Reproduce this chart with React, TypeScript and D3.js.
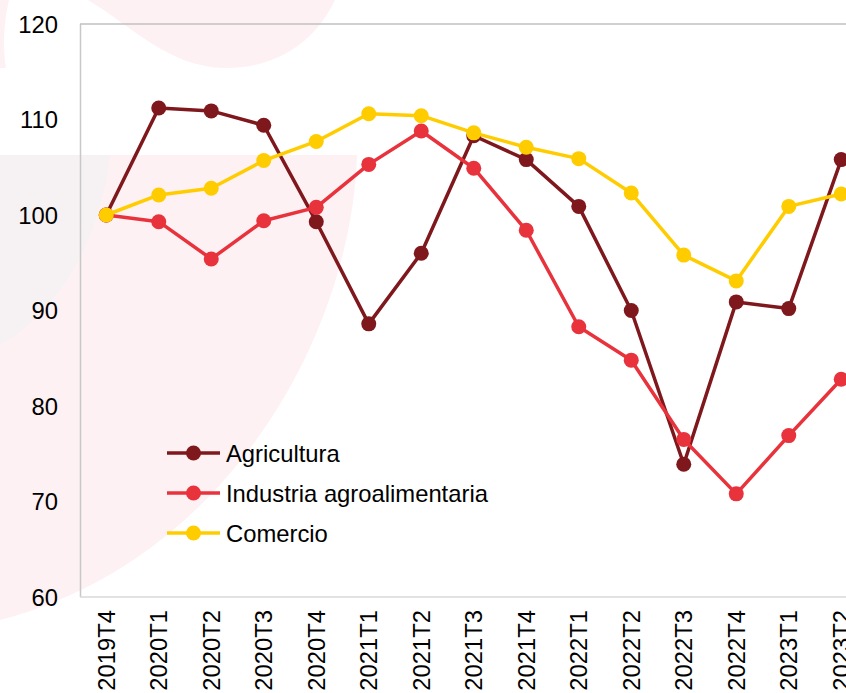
import React, { useEffect, useRef } from 'react';
import * as d3 from 'd3';

const quarters = [
  '2019T4', '2020T1', '2020T2', '2020T3', '2020T4',
  '2021T1', '2021T2', '2021T3', '2021T4',
  '2022T1', '2022T2', '2022T3', '2022T4',
  '2023T1', '2023T2',
];

const agricultura = [100, 111.2, 110.9, 109.4, 99.3, 88.6, 96.0, 108.3, 105.8, 100.9, 90.0, 73.9, 90.9, 90.2, 105.8];
const industria = [100, 99.3, 95.4, 99.4, 100.8, 105.3, 108.8, 104.9, 98.4, 88.3, 84.8, 76.5, 70.8, 76.9, 82.8];
const comercio = [100, 102.1, 102.8, 105.7, 107.7, 110.6, 110.4, 108.6, 107.1, 105.9, 102.3, 95.8, 93.1, 100.9, 102.2];

const seriesNames = ['Agricultura', 'Industria agroalimentaria', 'Comercio'];
const seriesColors = ['#7f181d', '#e8323c', '#ffcc00'];
const yTicks = [60, 70, 80, 90, 100, 110, 120];

const W = 846;
const H = 693;

const App: React.FC = () => {
  const ref = useRef<SVGSVGElement>(null);

  useEffect(() => {
    const svg = d3.select(ref.current);
    svg.selectAll('*').remove();

    const left = 80, top = 24, bottom = 597;
    const step = 52.5;

    const x = d3.scaleBand<string>()
      .domain(quarters)
      .range([left, left + step * quarters.length]);
    const y = d3.scaleLinear().domain([60, 120]).range([bottom, top]);
    const cx = (q: string) => (x(q) as number) + x.bandwidth() / 2;

    // faint watermark behind the chart
    const bg = svg.append('g');
    bg.append('path')
      .attr('d', 'M0,155 L357,155 C352,330 230,560 0,620 Z')
      .attr('fill', '#fdf1f3');
    bg.append('path')
      .attr('d', 'M0,155 L110,155 C100,240 60,310 0,345 Z')
      .attr('fill', '#f6f2f3');
    bg.append('path')
      .attr('d', 'M88,0 C130,25 170,68 225,68 C285,68 318,35 335,0 Z')
      .attr('fill', '#fdf1f3');
    bg.append('path')
      .attr('d', 'M0,0 L9,0 C3,25 3,50 6,68 L0,68 Z')
      .attr('fill', '#fdf1f3');

    // frame
    svg.append('line')
      .attr('x1', left + 0.5).attr('x2', left + 0.5)
      .attr('y1', top).attr('y2', bottom)
      .attr('stroke', '#c8c8c8').attr('stroke-width', 1.5);
    svg.append('line')
      .attr('x1', left).attr('x2', W)
      .attr('y1', top).attr('y2', top)
      .attr('stroke', '#c0c0c0').attr('stroke-width', 1.5);
    svg.append('line')
      .attr('x1', left).attr('x2', W)
      .attr('y1', bottom).attr('y2', bottom)
      .attr('stroke', '#d9d9d9').attr('stroke-width', 1.5);

    const font = 'Liberation Sans, Arial, sans-serif';
    const fs = 23.8;

    // y tick labels
    svg.append('g')
      .selectAll('text')
      .data(yTicks)
      .join('text')
      .attr('x', 58)
      .attr('y', d => y(d))
      .attr('dy', '0.36em')
      .attr('text-anchor', 'end')
      .attr('font-family', font)
      .attr('font-size', fs)
      .attr('fill', '#000')
      .text(d => d);

    // x tick labels, rotated
    svg.append('g')
      .selectAll('text')
      .data(quarters)
      .join('text')
      .attr('transform', d => `translate(${cx(d) + 8.5},610) rotate(-90)`)
      .attr('text-anchor', 'end')
      .attr('font-family', font)
      .attr('font-size', fs)
      .attr('fill', '#000')
      .text(d => d);

    const allSeries = [agricultura, industria, comercio];
    const line = d3.line<number>()
      .x((_, i) => cx(quarters[i]))
      .y(d => y(d));

    allSeries.forEach((vals, s) => {
      const g = svg.append('g');
      g.append('path')
        .datum(vals)
        .attr('fill', 'none')
        .attr('stroke', seriesColors[s])
        .attr('stroke-width', 3.5)
        .attr('stroke-linejoin', 'round')
        .attr('d', line);
      g.selectAll('circle')
        .data(vals)
        .join('circle')
        .attr('cx', (_, i) => cx(quarters[i]))
        .attr('cy', d => y(d))
        .attr('r', 7.5)
        .attr('fill', seriesColors[s]);
    });

    // legend
    const legend = svg.append('g');
    seriesNames.forEach((name, i) => {
      const ly = 453 + i * 40;
      legend.append('line')
        .attr('x1', 167).attr('x2', 220)
        .attr('y1', ly).attr('y2', ly)
        .attr('stroke', seriesColors[i])
        .attr('stroke-width', 3.5);
      legend.append('circle')
        .attr('cx', 193.5).attr('cy', ly)
        .attr('r', 7.5)
        .attr('fill', seriesColors[i]);
      legend.append('text')
        .attr('x', 226).attr('y', ly)
        .attr('dy', '0.36em')
        .attr('font-family', font)
        .attr('font-size', fs)
        .attr('fill', '#000')
        .text(name);
    });
  }, []);

  return (
    <svg
      ref={ref}
      width={W}
      height={H}
      style={{ position: 'absolute', left: 0, top: 0, background: '#fff', overflow: 'hidden' }}
    />
  );
};

export default App;
